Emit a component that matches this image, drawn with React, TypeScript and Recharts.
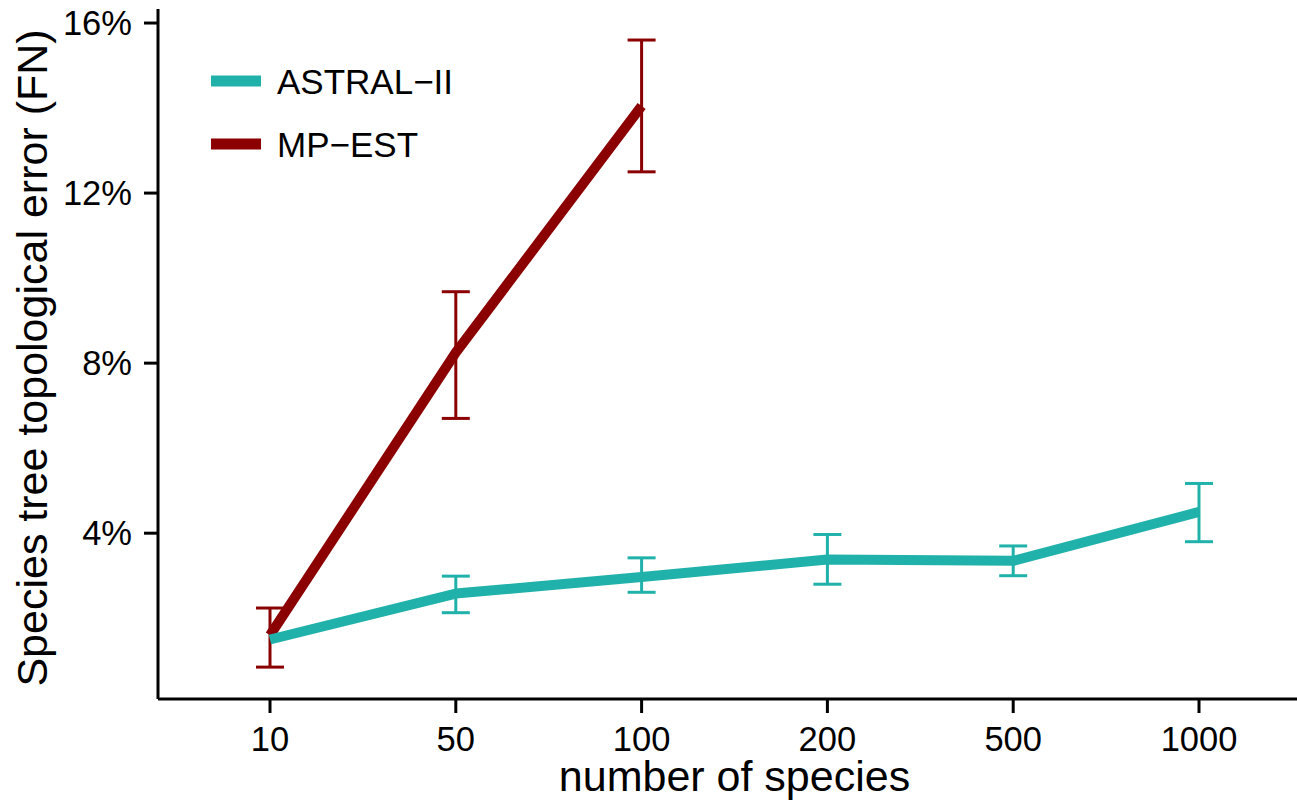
import React from 'react';
import { LineChart, Line, XAxis, YAxis, ErrorBar, Legend } from 'recharts';

// number of species on the x axis
const speciesCounts = ['10', '50', '100', '200', '500', '1000'];

// ASTRAL-II mean error (%) and error bar bounds
const astralMean = [1.5, 2.58, 2.97, 3.38, 3.35, 4.5];
const astralLow = [null, 2.13, 2.61, 2.8, 3.0, 3.8];
const astralHigh = [null, 2.99, 3.42, 3.97, 3.7, 5.17];

// MP-EST only ran up to 100 species
const mpestMean = [1.6, 8.25, 14.05, null, null, null];
const mpestLow = [0.85, 6.7, 12.5, null, null, null];
const mpestHigh = [2.24, 9.68, 15.6, null, null, null];

const yTicks = [4, 8, 12, 16];

const TEAL = '#20B2AA';
const DARKRED = '#8B0000';
const FONT = '"Liberation Sans", Arial, Helvetica, sans-serif';

const PAD_LEFT = 112;
const PAD_RIGHT = 98;

const errOf = (mean: (number | null)[], low: (number | null)[], high: (number | null)[], i: number) => {
  const m = mean[i], l = low[i], h = high[i];
  if (m == null || l == null || h == null) return null;
  return [m - l, h - m];
};

const data = speciesCounts.map((n, i) => ({
  n,
  astral: astralMean[i],
  astralErr: errOf(astralMean, astralLow, astralHigh, i),
  mpest: mpestMean[i],
  mpestErr: errOf(mpestMean, mpestLow, mpestHigh, i),
}));

const legendItems = [
  { name: 'ASTRAL\u2212II', color: TEAL },
  { name: 'MP\u2212EST', color: DARKRED },
];

const renderLegend = () => (
  <svg width={300} height={130} style={{ display: 'block' }}>
    {legendItems.map((item, i) => (
      <g key={item.name}>
        <line x1={11} x2={61} y1={31 + i * 63} y2={31 + i * 63} stroke={item.color} strokeWidth={11} />
        <text x={77} y={44 + i * 63} fontSize={35} fontFamily={FONT} fill="#000">
          {item.name}
        </text>
      </g>
    ))}
  </svg>
);

const YTitle = (props: any) => {
  const vb = props.viewBox || { y: 9, height: 690 };
  const cx = 47;
  const cy = vb.y + vb.height / 2 + 4;
  return (
    <text x={cx} y={cy} transform={`rotate(-90, ${cx}, ${cy})`} textAnchor="middle" fontSize={43} fontFamily={FONT} fill="#000">
      Species tree topological error (FN)
    </text>
  );
};

const XTitle = (props: any) => {
  const vb = props.viewBox || { x: 158, width: 1139 };
  const cx = vb.x + PAD_LEFT + (vb.width - PAD_LEFT - PAD_RIGHT) / 2;
  return (
    <text x={cx} y={791} textAnchor="middle" fontSize={43} fontFamily={FONT} fill="#000">
      number of species
    </text>
  );
};

const App = () => {
  return (
    <div style={{ position: 'absolute', left: 0, top: 0, background: '#fff' }}>
      <LineChart width={1297} height={802} data={data} margin={{ top: 9, right: 0, bottom: 0, left: 0 }}>
        <XAxis
          dataKey="n"
          height={103}
          padding={{ left: PAD_LEFT, right: PAD_RIGHT }}
          axisLine={{ stroke: '#000', strokeWidth: 3 }}
          tickLine={{ stroke: '#000', strokeWidth: 3 }}
          tickSize={14}
          tickMargin={14}
          tick={{ fill: '#000', fontSize: 34.5, fontFamily: FONT }}
          label={XTitle}
        />
        <YAxis
          width={158}
          type="number"
          domain={[0.1, 16.33]}
          allowDataOverflow
          ticks={yTicks}
          tickFormatter={(v: number) => `${v}%`}
          axisLine={{ stroke: '#000', strokeWidth: 3 }}
          tickLine={{ stroke: '#000', strokeWidth: 3 }}
          tickSize={14}
          tickMargin={12}
          tick={{ fill: '#000', fontSize: 34.5, fontFamily: FONT }}
          label={YTitle}
        />
        <Legend
          layout="vertical"
          align="center"
          verticalAlign="middle"
          content={renderLegend}
          wrapperStyle={{ left: 200, top: 50, width: 300, height: 130 }}
        />
        <Line
          type="linear"
          dataKey="mpest"
          name="MP-EST"
          stroke={DARKRED}
          strokeWidth={10}
          strokeLinejoin="round"
          dot={false}
          activeDot={false}
          isAnimationActive={false}
        >
          <ErrorBar dataKey="mpestErr" width={14} stroke={DARKRED} strokeWidth={3} direction="y" />
        </Line>
        <Line
          type="linear"
          dataKey="astral"
          name="ASTRAL-II"
          stroke={TEAL}
          strokeWidth={10}
          strokeLinejoin="round"
          dot={false}
          activeDot={false}
          isAnimationActive={false}
        >
          <ErrorBar dataKey="astralErr" width={14} stroke={TEAL} strokeWidth={3} direction="y" />
        </Line>
      </LineChart>
    </div>
  );
};

export default App;
